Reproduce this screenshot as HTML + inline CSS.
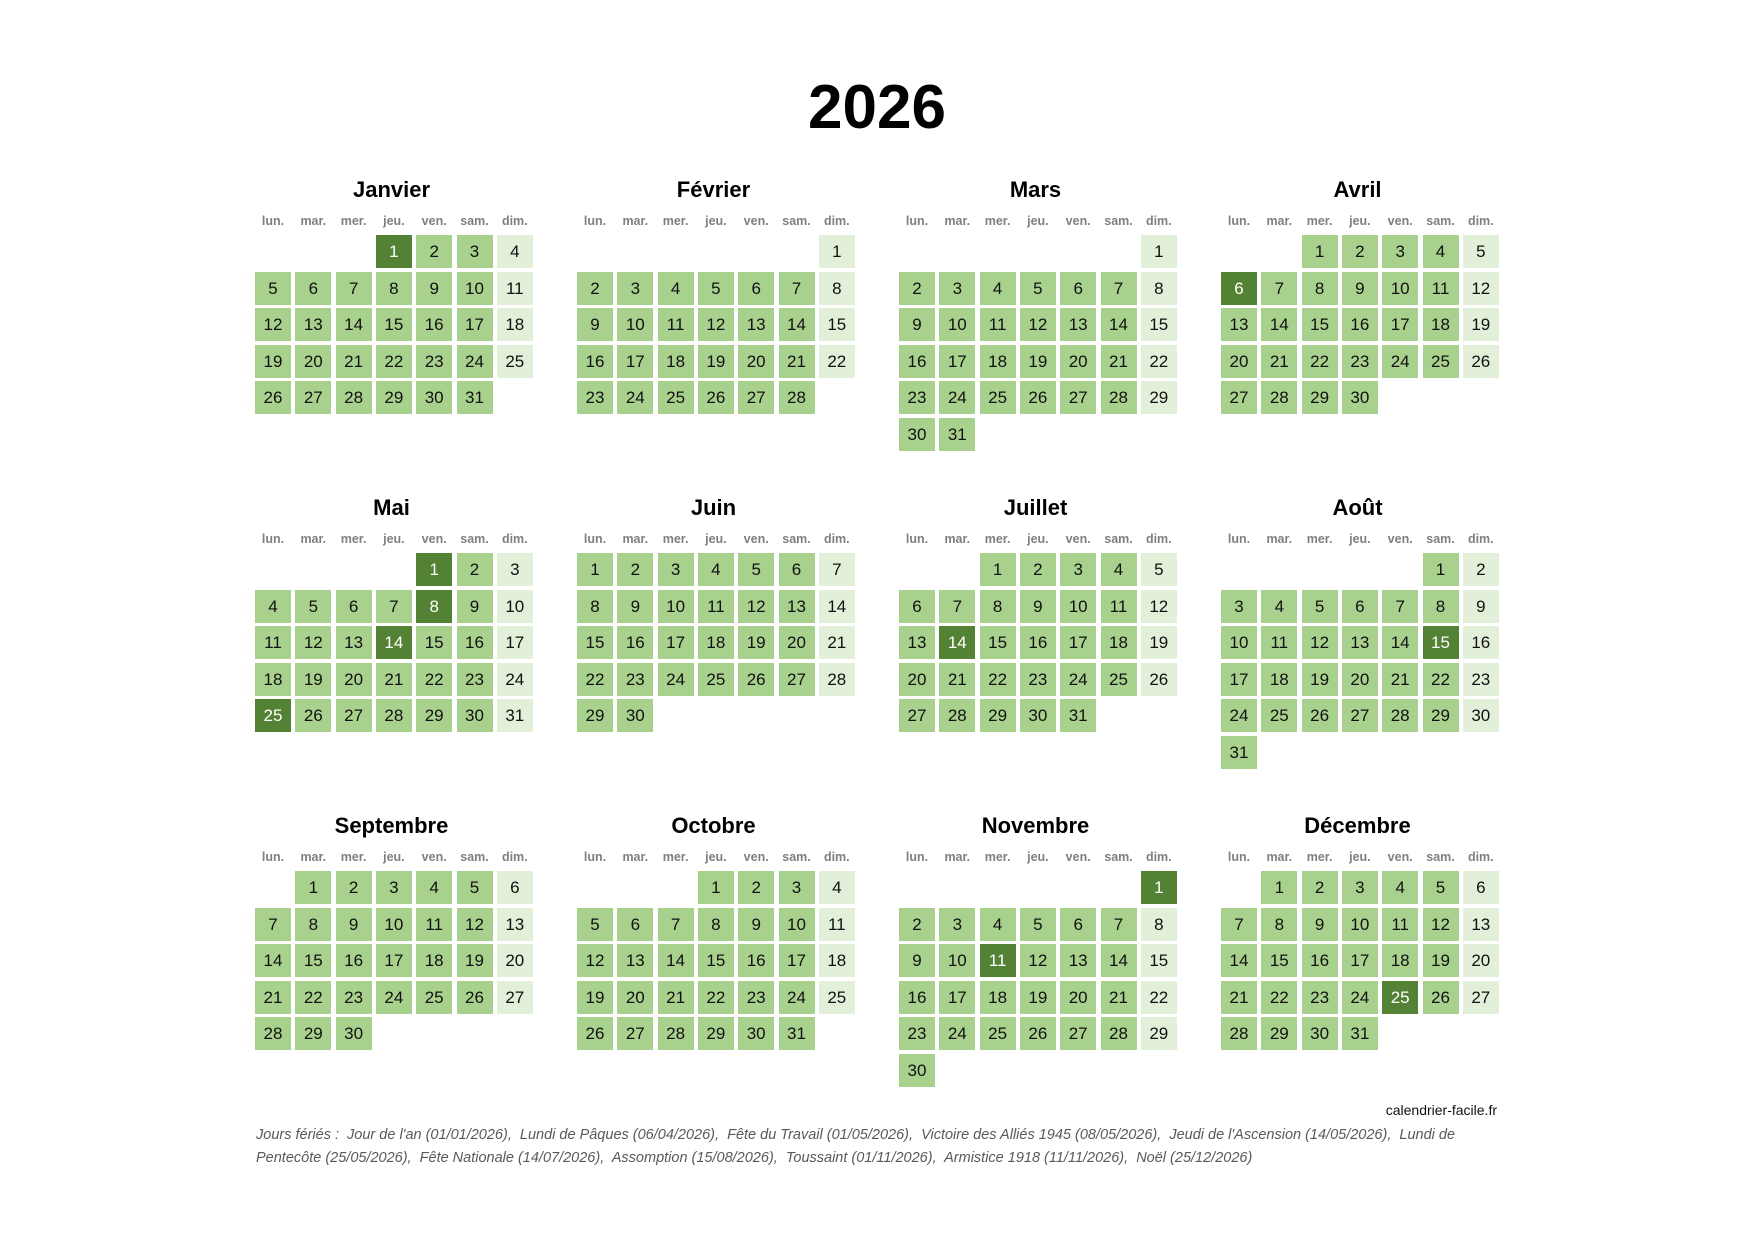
<!DOCTYPE html>
<html><head><meta charset="utf-8">
<style>
body{margin:0;background:#fff;font-family:"Liberation Sans",sans-serif;}
#page{position:relative;width:1754px;height:1241px;overflow:hidden;}
.abs{position:absolute;}
.title{left:0;width:1754px;text-align:center;top:72px;font-size:62px;font-weight:bold;color:#000;}
.mt{font-size:22px;font-weight:bold;text-align:center;width:283px;}
.dh{font-size:12.5px;font-weight:bold;color:#7f7f7f;width:36px;text-align:center;}
.c{width:36px;height:33px;line-height:33px;text-align:center;font-size:17px;color:#111;}
.w{background:#a9d18e;}.s{background:#e2efd9;}.h{background:#548235;color:#fff;}
.note{left:256px;font-size:14.5px;font-style:italic;color:#595959;white-space:nowrap;}
</style></head><body>
<div id="page">
<div class="abs title">2026</div>
<div class="abs" style="left:1243px;width:254px;text-align:right;top:1102px;font-size:14px;color:#111">calendrier-facile.fr</div>
<div class="abs note" style="top:1127px">Jours fériés :&nbsp; Jour de l'an (01/01/2026),&nbsp; Lundi de Pâques (06/04/2026),&nbsp; Fête du Travail (01/05/2026),&nbsp; Victoire des Alliés 1945 (08/05/2026),&nbsp; Jeudi de l'Ascension (14/05/2026),&nbsp; Lundi de</div>
<div class="abs note" style="top:1150px">Pentecôte (25/05/2026),&nbsp; Fête Nationale (14/07/2026),&nbsp; Assomption (15/08/2026),&nbsp; Toussaint (01/11/2026),&nbsp; Armistice 1918 (11/11/2026),&nbsp; Noël (25/12/2026)</div>
</div>
<script>
const monthNames=["Janvier","Février","Mars","Avril","Mai","Juin","Juillet","Août","Septembre","Octobre","Novembre","Décembre"];
const dayNames=["lun.","mar.","mer.","jeu.","ven.","sam.","dim."];
const holidays=["1-1","4-6","5-1","5-8","5-14","5-25","7-14","8-15","11-1","11-11","12-25"];
const year=2026;
const page=document.getElementById('page');
for(let m=0;m<12;m++){
  const bx=255+(m%4)*322, by=Math.floor(m/4)*318;
  const t=document.createElement('div');
  t.className='abs mt';t.style.left=(bx-5)+'px';t.style.top=(177+by)+'px';t.textContent=monthNames[m];
  
  
  page.appendChild(t);
  for(let d=0;d<7;d++){
    const h=document.createElement('div');
    h.className='abs dh';h.style.left=(bx+d*40.3)+'px';h.style.top=(214+by)+'px';h.textContent=dayNames[d];
    
    
    page.appendChild(h);
  }
  const first=(new Date(year,m,1).getDay()+6)%7;
  const n=new Date(year,m+1,0).getDate();
  for(let day=1;day<=n;day++){
    const idx=first+day-1,col=idx%7,row=Math.floor(idx/7);
    const c=document.createElement('div');
    const hol=holidays.includes((m+1)+'-'+day);
    c.className='abs c '+(hol?'h':(col==6?'s':'w'));
    c.style.left=(bx+col*40.3)+'px';c.style.top=(235+by+row*36.5)+'px';c.textContent=day;
    
    
    page.appendChild(c);
  }
}
</script>
</body></html>
